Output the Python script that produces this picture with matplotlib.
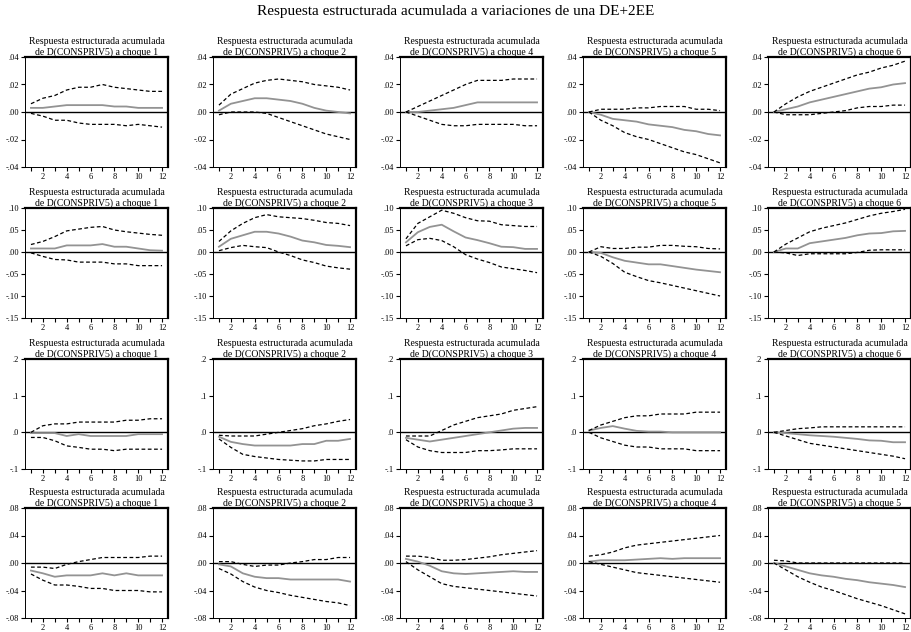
import numpy as np
import matplotlib.pyplot as plt
from matplotlib.ticker import FuncFormatter

plt.rcParams['font.family'] = ['Liberation Serif', 'DejaVu Serif']

periods = np.arange(1, 13)
main_title = "Respuesta estructurada acumulada a variaciones de una DE+2EE"

# shocks shown in each row
shocks = [[1, 2, 4, 5, 6],
          [1, 2, 3, 5, 6],
          [1, 2, 3, 4, 6],
          [1, 2, 3, 4, 5]]

# row 1
resp_row1 = [
    [0.003, 0.003, 0.004, 0.005, 0.005, 0.005, 0.005, 0.004, 0.004, 0.003, 0.003, 0.003],
    [0.001, 0.006, 0.008, 0.010, 0.010, 0.009, 0.008, 0.006, 0.003, 0.001, 0.000, -0.001],
    [0.000, 0.000, 0.001, 0.002, 0.003, 0.005, 0.007, 0.007, 0.007, 0.007, 0.007, 0.007],
    [0.000, -0.002, -0.005, -0.006, -0.007, -0.009, -0.010, -0.011, -0.013, -0.014, -0.016, -0.017],
    [0.000, 0.002, 0.004, 0.007, 0.009, 0.011, 0.013, 0.015, 0.017, 0.018, 0.020, 0.021],
]
upper_row1 = [
    [0.006, 0.010, 0.012, 0.016, 0.018, 0.018, 0.020, 0.018, 0.017, 0.016, 0.015, 0.015],
    [0.005, 0.013, 0.017, 0.021, 0.023, 0.024, 0.023, 0.022, 0.020, 0.019, 0.018, 0.016],
    [0.000, 0.004, 0.008, 0.012, 0.016, 0.020, 0.023, 0.023, 0.023, 0.024, 0.024, 0.024],
    [0.000, 0.002, 0.002, 0.002, 0.003, 0.003, 0.004, 0.004, 0.004, 0.002, 0.002, 0.001],
    [0.000, 0.006, 0.011, 0.015, 0.018, 0.021, 0.024, 0.027, 0.029, 0.032, 0.034, 0.037],
]
lower_row1 = [
    [-0.001, -0.003, -0.006, -0.006, -0.008, -0.009, -0.009, -0.009, -0.010, -0.009, -0.010, -0.011],
    [-0.002, 0.000, 0.000, 0.000, -0.001, -0.004, -0.007, -0.010, -0.013, -0.016, -0.018, -0.020],
    [0.000, -0.003, -0.006, -0.009, -0.010, -0.010, -0.009, -0.009, -0.009, -0.009, -0.010, -0.010],
    [0.000, -0.006, -0.010, -0.015, -0.018, -0.020, -0.023, -0.026, -0.029, -0.031, -0.034, -0.037],
    [0.000, -0.002, -0.002, -0.002, -0.001, 0.000, 0.001, 0.003, 0.004, 0.004, 0.005, 0.005],
]

# row 2
resp_row2 = [
    [0.008, 0.008, 0.008, 0.015, 0.015, 0.015, 0.018, 0.012, 0.012, 0.008, 0.004, 0.003],
    [0.012, 0.030, 0.038, 0.046, 0.046, 0.042, 0.035, 0.026, 0.022, 0.016, 0.014, 0.011],
    [0.022, 0.045, 0.057, 0.062, 0.047, 0.033, 0.027, 0.020, 0.012, 0.011, 0.007, 0.007],
    [0.000, -0.002, -0.012, -0.020, -0.024, -0.028, -0.028, -0.032, -0.036, -0.040, -0.043, -0.046],
    [0.000, 0.008, 0.008, 0.020, 0.024, 0.028, 0.032, 0.038, 0.042, 0.043, 0.047, 0.048],
]
upper_row2 = [
    [0.017, 0.024, 0.035, 0.048, 0.052, 0.056, 0.058, 0.050, 0.046, 0.043, 0.040, 0.038],
    [0.024, 0.048, 0.065, 0.078, 0.085, 0.080, 0.078, 0.076, 0.072, 0.067, 0.065, 0.060],
    [0.030, 0.065, 0.080, 0.095, 0.088, 0.078, 0.071, 0.070, 0.062, 0.060, 0.058, 0.058],
    [0.000, 0.012, 0.008, 0.008, 0.011, 0.011, 0.015, 0.015, 0.013, 0.012, 0.008, 0.007],
    [0.000, 0.018, 0.032, 0.046, 0.054, 0.060, 0.066, 0.074, 0.082, 0.088, 0.092, 0.097],
]
lower_row2 = [
    [-0.002, -0.010, -0.017, -0.018, -0.023, -0.023, -0.023, -0.027, -0.027, -0.031, -0.031, -0.031],
    [0.003, 0.010, 0.015, 0.012, 0.010, 0.000, -0.008, -0.018, -0.024, -0.032, -0.036, -0.039],
    [0.014, 0.028, 0.031, 0.026, 0.012, -0.006, -0.016, -0.024, -0.034, -0.038, -0.042, -0.047],
    [0.000, -0.010, -0.026, -0.046, -0.056, -0.065, -0.070, -0.076, -0.082, -0.088, -0.094, -0.100],
    [0.000, -0.002, -0.008, -0.004, -0.004, -0.004, -0.004, -0.001, 0.004, 0.005, 0.005, 0.005],
]

# row 3
resp_row3 = [
    [-0.002, -0.002, -0.002, -0.010, -0.005, -0.010, -0.010, -0.010, -0.010, -0.005, -0.005, -0.005],
    [-0.012, -0.026, -0.032, -0.036, -0.036, -0.036, -0.036, -0.032, -0.032, -0.023, -0.023, -0.018],
    [-0.015, -0.020, -0.025, -0.020, -0.015, -0.010, -0.005, 0.000, 0.005, 0.010, 0.012, 0.012],
    [0.005, 0.012, 0.017, 0.010, 0.004, 0.002, 0.002, 0.000, 0.000, 0.000, 0.000, 0.000],
    [0.000, -0.002, -0.005, -0.008, -0.010, -0.012, -0.015, -0.018, -0.022, -0.023, -0.027, -0.027],
]
upper_row3 = [
    [0.000, 0.018, 0.023, 0.023, 0.028, 0.028, 0.028, 0.028, 0.033, 0.033, 0.037, 0.037],
    [-0.008, -0.010, -0.010, -0.010, -0.005, 0.000, 0.005, 0.010, 0.018, 0.023, 0.030, 0.035],
    [-0.010, -0.010, -0.010, 0.005, 0.020, 0.030, 0.040, 0.045, 0.050, 0.060, 0.065, 0.070],
    [0.005, 0.020, 0.030, 0.040, 0.045, 0.045, 0.050, 0.050, 0.050, 0.055, 0.055, 0.055],
    [0.000, 0.005, 0.010, 0.012, 0.015, 0.015, 0.015, 0.015, 0.015, 0.015, 0.015, 0.015],
]
lower_row3 = [
    [-0.014, -0.014, -0.023, -0.037, -0.041, -0.046, -0.046, -0.050, -0.046, -0.046, -0.046, -0.046],
    [-0.018, -0.041, -0.060, -0.066, -0.070, -0.074, -0.076, -0.078, -0.078, -0.074, -0.074, -0.074],
    [-0.020, -0.040, -0.050, -0.055, -0.055, -0.055, -0.050, -0.050, -0.048, -0.045, -0.045, -0.045],
    [0.000, -0.015, -0.025, -0.035, -0.040, -0.040, -0.045, -0.045, -0.045, -0.050, -0.050, -0.050],
    [0.000, -0.010, -0.020, -0.030, -0.035, -0.040, -0.045, -0.050, -0.055, -0.060, -0.065, -0.072],
]

# row 4
resp_row4 = [
    [-0.011, -0.015, -0.020, -0.018, -0.018, -0.018, -0.015, -0.018, -0.015, -0.018, -0.018, -0.018],
    [-0.002, -0.005, -0.015, -0.020, -0.022, -0.022, -0.024, -0.024, -0.024, -0.024, -0.024, -0.027],
    [0.006, 0.002, -0.004, -0.012, -0.015, -0.016, -0.015, -0.014, -0.013, -0.012, -0.013, -0.013],
    [0.002, 0.004, 0.004, 0.004, 0.005, 0.006, 0.007, 0.006, 0.007, 0.007, 0.007, 0.007],
    [0.000, -0.005, -0.010, -0.015, -0.018, -0.020, -0.023, -0.025, -0.028, -0.030, -0.032, -0.035],
]
upper_row4 = [
    [-0.006, -0.006, -0.008, -0.002, 0.002, 0.005, 0.008, 0.008, 0.008, 0.008, 0.010, 0.010],
    [0.002, 0.002, -0.002, -0.005, -0.003, -0.003, 0.000, 0.002, 0.005, 0.005, 0.008, 0.008],
    [0.010, 0.010, 0.008, 0.004, 0.004, 0.005, 0.007, 0.009, 0.012, 0.014, 0.016, 0.018],
    [0.010, 0.012, 0.016, 0.022, 0.026, 0.028, 0.030, 0.032, 0.034, 0.036, 0.038, 0.040],
    [0.004, 0.003, 0.000, 0.000, 0.000, 0.000, 0.000, 0.000, 0.000, 0.000, 0.000, 0.000],
]
lower_row4 = [
    [-0.016, -0.025, -0.032, -0.032, -0.034, -0.037, -0.037, -0.040, -0.040, -0.040, -0.042, -0.042],
    [-0.008, -0.016, -0.027, -0.035, -0.040, -0.043, -0.047, -0.050, -0.053, -0.056, -0.058, -0.062],
    [0.002, -0.010, -0.020, -0.030, -0.034, -0.036, -0.038, -0.040, -0.042, -0.044, -0.046, -0.048],
    [0.002, -0.002, -0.006, -0.010, -0.014, -0.016, -0.018, -0.020, -0.022, -0.024, -0.026, -0.028],
    [0.000, -0.010, -0.020, -0.028, -0.035, -0.040, -0.046, -0.052, -0.057, -0.062, -0.068, -0.074],
]

resp = [resp_row1, resp_row2, resp_row3, resp_row4]
upper = [upper_row1, upper_row2, upper_row3, upper_row4]
lower = [lower_row1, lower_row2, lower_row3, lower_row4]

# y scale per row: ticks (first/last are the limits) and decimals
yticks = [[-0.04, -0.02, 0.0, 0.02, 0.04],
          [-0.15, -0.10, -0.05, 0.0, 0.05, 0.10],
          [-0.1, 0.0, 0.1, 0.2],
          [-0.08, -0.04, 0.0, 0.04, 0.08]]
decimals = [2, 2, 1, 2]


def no_lead_zero(dec):
    def fmt(v, pos):
        s = f"{v:.{dec}f}"
        if s.startswith("-0"):
            return "-" + s[2:]
        if s.startswith("0"):
            return s[1:]
        return s
    return FuncFormatter(fmt)


W, H = 912, 632
fig = plt.figure(figsize=(W / 100, H / 100), dpi=100)
fig.text(0.5, 1 - 12 / H, main_title, ha='center', va='center', fontsize=11)

col_left = [25, 213, 400, 583, 768]
row_top = [57, 208, 359, 508]
aw, ah = 143, 110

for r in range(4):
    for c in range(5):
        ax = fig.add_axes([col_left[c] / W, 1 - (row_top[r] + ah) / H, aw / W, ah / H])
        ax.axhline(0, color='black', lw=1.0, zorder=1)
        ax.plot(periods, resp[r][c], color='#939393', lw=1.3, zorder=2)
        ax.plot(periods, upper[r][c], color='black', lw=0.9, ls=(0, (3, 2)), zorder=3)
        ax.plot(periods, lower[r][c], color='black', lw=0.9, ls=(0, (3, 2)), zorder=3)
        ax.set_xlim(0.5, 12.5)
        ax.set_ylim(yticks[r][0], yticks[r][-1])
        ax.set_yticks(yticks[r])
        ax.yaxis.set_major_formatter(no_lead_zero(decimals[r]))
        ax.set_xticks(periods)
        ax.set_xticklabels([str(p) if p % 2 == 0 else '' for p in periods])
        ax.tick_params(labelsize=6, length=3, width=0.8, pad=1.5)
        for side in ['top', 'right']:
            ax.spines[side].set_linewidth(1.6)
        for side in ['left', 'bottom']:
            ax.spines[side].set_linewidth(0.7)
        ax.set_title(f"Respuesta estructurada acumulada\nde D(CONSPRIV5) a choque {shocks[r][c]}",
                     fontsize=7, pad=1.5, linespacing=1.2)

fig.savefig('out.png', dpi=100)
